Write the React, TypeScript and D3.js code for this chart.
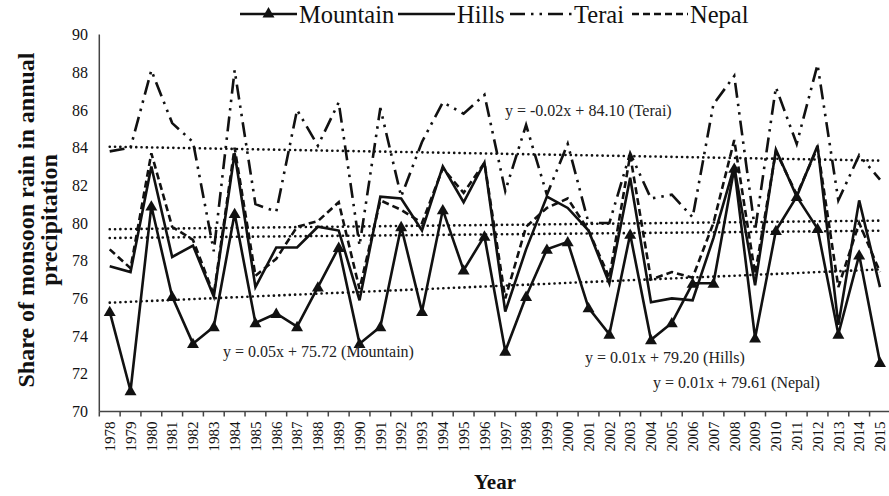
import React, { useRef, useEffect } from "react";
import * as d3 from "d3";

const years = [
  "1978", "1979", "1980", "1981", "1982", "1983", "1984", "1985", "1986", "1987",
  "1988", "1989", "1990", "1991", "1992", "1993", "1994", "1995", "1996", "1997",
  "1998", "1999", "2000", "2001", "2002", "2003", "2004", "2005", "2006", "2007",
  "2008", "2009", "2010", "2011", "2012", "2013", "2014", "2015",
];

const mountain = [
  75.3, 71.1, 80.9, 76.1, 73.6, 74.5, 80.5, 74.7, 75.2, 74.5,
  76.6, 78.7, 73.6, 74.5, 79.8, 75.3, 80.7, 77.5, 79.3, 73.2,
  76.1, 78.6, 79.0, 75.5, 74.1, 79.4, 73.8, 74.7, 76.8, 76.8,
  82.9, 73.9, 79.6, 81.4, 79.7, 74.1, 78.3, 72.6,
];

const hills = [
  77.7, 77.4, 83.0, 78.2, 78.8, 76.1, 83.7, 76.6, 78.7, 78.7,
  79.8, 79.6, 75.9, 81.4, 81.3, 79.6, 83.0, 81.1, 83.2, 75.3,
  78.6, 81.4, 80.8, 79.6, 76.8, 82.4, 75.8, 76.0, 75.9, 79.2,
  83.0, 76.7, 83.9, 81.4, 84.1, 74.6, 81.2, 76.6,
];

const terai = [
  83.8, 84.0, 88.1, 85.3, 84.3, 78.5, 88.1, 81.0, 80.6, 86.0,
  84.1, 86.4, 78.8, 86.1, 81.4, 84.3, 86.4, 85.8, 86.8, 81.7,
  85.2, 81.5, 84.2, 80.0, 80.0, 83.7, 81.3, 81.5, 80.3, 86.3,
  87.8, 79.6, 87.2, 84.2, 88.4, 81.2, 83.6, 82.3,
];

const nepal = [
  78.6, 77.6, 83.7, 79.8, 79.1, 76.2, 84.0, 77.2, 78.1, 79.8,
  80.1, 81.1, 76.5, 81.2, 80.7, 80.0, 82.9, 81.6, 83.2, 76.0,
  79.8, 80.8, 81.3, 79.6, 77.1, 83.6, 77.0, 77.4, 77.1, 80.0,
  84.4, 77.3, 83.8, 81.5, 84.0, 76.6, 80.0, 77.4,
];

const yTicks = [70, 72, 74, 76, 78, 80, 82, 84, 86, 88, 90];

const equationLabels = [
  "y = 0.05x + 75.72 (Mountain)",
  "y = 0.01x + 79.20 (Hills)",
  "y = -0.02x + 84.10 (Terai)",
  "y = 0.01x + 79.61 (Nepal)",
];

const width = 889;
const height = 496;
const FONT = "'Liberation Serif', 'Times New Roman', serif";
const INK = "#111";

// least squares fit, x = 1..n like Excel does
function linearRegression(values: number[]) {
  const n = values.length;
  const xs = values.map((_, i) => i + 1);
  const mx = d3.mean(xs) as number;
  const my = d3.mean(values) as number;
  let num = 0;
  let den = 0;
  xs.forEach((x, i) => {
    num += (x - mx) * (values[i] - my);
    den += (x - mx) * (x - mx);
  });
  const slope = num / den;
  const intercept = my - slope * mx;
  return { slope, intercept, first: slope + intercept, last: slope * n + intercept };
}

export default function App() {
  const svgRef = useRef<SVGSVGElement>(null);

  useEffect(() => {
    const svg = d3.select(svgRef.current);
    svg.selectAll("*").remove();

    const margin = { top: 34.5, right: -1.4, bottom: 84.5, left: 99.3 };

    const x = d3
      .scaleBand()
      .domain(years)
      .range([margin.left, width - margin.right])
      .padding(0);

    const y = d3
      .scaleLinear()
      .domain([70, 90])
      .range([height - margin.bottom, margin.top]);

    const cx = (i: number) => (x(years[i]) as number) + x.bandwidth() / 2;

    const series = [
      { name: "Mountain", values: mountain, dash: null, marker: true, eq: equationLabels[0], eqPos: [223, 357] },
      { name: "Hills", values: hills, dash: null, marker: false, eq: equationLabels[1], eqPos: [585, 363] },
      { name: "Terai", values: terai, dash: "15 6 2.5 6 2.5 6", marker: false, eq: equationLabels[2], eqPos: [505, 116] },
      { name: "Nepal", values: nepal, dash: "7 4", marker: false, eq: equationLabels[3], eqPos: [653, 388] },
    ];

    // y axis
    svg
      .append("line")
      .attr("x1", margin.left)
      .attr("x2", margin.left)
      .attr("y1", y(90))
      .attr("y2", y(70))
      .attr("stroke", "#444")
      .attr("stroke-width", 1.5);

    svg
      .append("g")
      .selectAll("text")
      .data(yTicks)
      .enter()
      .append("text")
      .attr("x", 88)
      .attr("y", (d) => y(d))
      .attr("dy", "0.35em")
      .attr("text-anchor", "end")
      .attr("font-family", FONT)
      .attr("font-size", 16)
      .attr("fill", INK)
      .text((d) => d);

    // x axis
    const xAxis = svg
      .append("g")
      .attr("transform", `translate(0,${y(70)})`);

    xAxis
      .append("line")
      .attr("x1", margin.left)
      .attr("x2", width)
      .attr("stroke", "#444")
      .attr("stroke-width", 1.5);

    xAxis
      .selectAll(".tick")
      .data(years)
      .enter()
      .append("line")
      .attr("class", "tick")
      .attr("x1", (d) => x(d) as number)
      .attr("x2", (d) => x(d) as number)
      .attr("y1", 0)
      .attr("y2", 5)
      .attr("stroke", "#444")
      .attr("stroke-width", 1.5);

    xAxis
      .selectAll(".lbl")
      .data(years)
      .enter()
      .append("text")
      .attr("class", "lbl")
      .attr("transform", (d, i) => `translate(${cx(i)},10) rotate(-90)`)
      .attr("text-anchor", "end")
      .attr("dy", "0.35em")
      .attr("font-family", FONT)
      .attr("font-size", 15)
      .attr("fill", INK)
      .text((d) => d);

    // axis titles
    svg
      .append("text")
      .attr("x", 495)
      .attr("y", 489)
      .attr("text-anchor", "middle")
      .attr("font-family", FONT)
      .attr("font-weight", "bold")
      .attr("font-size", 21)
      .attr("fill", INK)
      .text("Year");

    const yTitle = svg
      .append("text")
      .attr("transform", `translate(0,220) rotate(-90)`)
      .attr("text-anchor", "middle")
      .attr("font-family", FONT)
      .attr("font-weight", "bold")
      .attr("font-size", 24)
      .attr("fill", INK);
    yTitle.append("tspan").attr("x", 0).attr("y", 34).text("Share of monsoon rain in annual");
    yTitle.append("tspan").attr("x", 0).attr("y", 57).text("precipitation");

    // trend lines
    series.forEach((s) => {
      const reg = linearRegression(s.values);
      svg
        .append("line")
        .attr("x1", cx(0))
        .attr("x2", cx(years.length - 1))
        .attr("y1", y(reg.first))
        .attr("y2", y(reg.last))
        .attr("stroke", INK)
        .attr("stroke-width", 2.6)
        .attr("stroke-linecap", "round")
        .attr("stroke-dasharray", "0.1 5.2");
    });

    // series lines
    const line = d3
      .line<number>()
      .x((d, i) => cx(i))
      .y((d) => y(d));

    series.forEach((s) => {
      const path = svg
        .append("path")
        .datum(s.values)
        .attr("fill", "none")
        .attr("stroke", INK)
        .attr("stroke-width", 2.6)
        .attr("stroke-linejoin", "miter")
        .attr("d", line);
      if (s.dash) path.attr("stroke-dasharray", s.dash);
    });

    const tri = d3.symbol().type(d3.symbolTriangle).size(62);
    svg
      .append("g")
      .selectAll("path")
      .data(mountain)
      .enter()
      .append("path")
      .attr("transform", (d, i) => `translate(${cx(i)},${y(d) + 1})`)
      .attr("d", tri)
      .attr("fill", INK);

    // equations
    series.forEach((s) => {
      svg
        .append("text")
        .attr("x", s.eqPos[0])
        .attr("y", s.eqPos[1])
        .attr("font-family", FONT)
        .attr("font-size", 16)
        .attr("fill", "#222")
        .text(s.eq);
    });

    // legend
    const legendX = [240, 398, 510, 632];
    const legendW = [57, 57, 62, 56];
    const ly = 14;
    series.forEach((s, i) => {
      const g = svg.append("g");
      const l = g
        .append("line")
        .attr("x1", legendX[i])
        .attr("x2", legendX[i] + legendW[i])
        .attr("y1", ly)
        .attr("y2", ly)
        .attr("stroke", INK)
        .attr("stroke-width", 2.6);
      if (s.dash) l.attr("stroke-dasharray", s.dash);
      if (s.marker) {
        g.append("path")
          .attr("transform", `translate(${legendX[i] + legendW[i] / 2},${ly})`)
          .attr("d", tri)
          .attr("fill", INK);
      }
      g.append("text")
        .attr("x", legendX[i] + legendW[i] + 2)
        .attr("y", ly)
        .attr("dy", "0.35em")
        .attr("font-family", FONT)
        .attr("font-size", 24.5)
        .attr("fill", INK)
        .text(s.name);
    });
  }, []);

  return (
    <svg
      ref={svgRef}
      width={width}
      height={height}
      style={{ position: "absolute", left: 0, top: 0, background: "#fff" }}
    />
  );
}
